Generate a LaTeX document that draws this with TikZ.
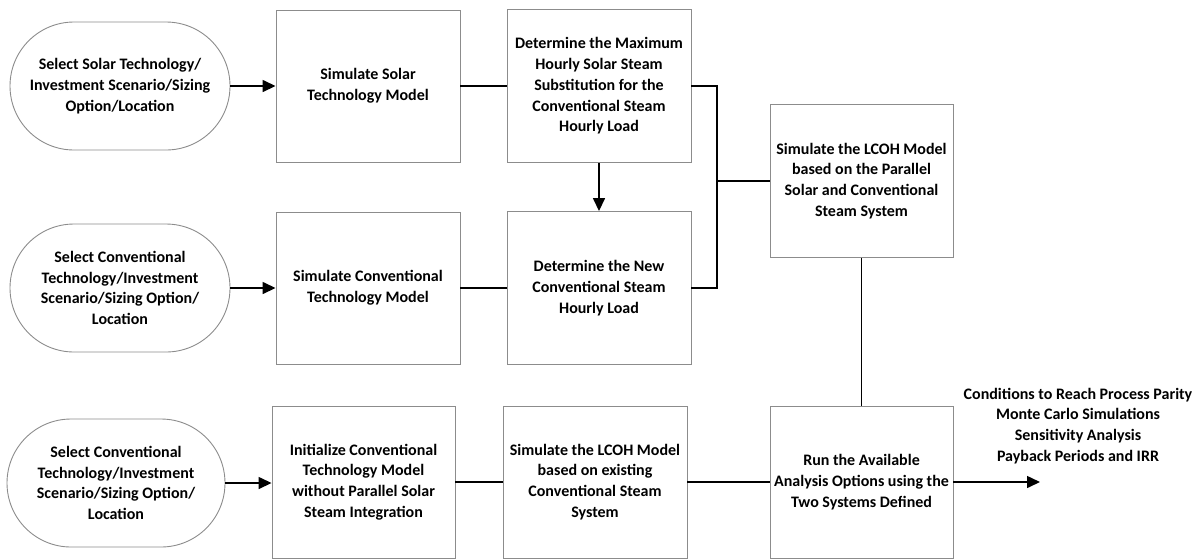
\documentclass[tikz,border=0pt]{standalone}
\usepackage{fontspec}
\setmainfont{Carlito}
\usetikzlibrary{arrows.meta}
\begin{document}
\begin{tikzpicture}[x=1pt,y=-1pt,
  every node/.style={font=\fontsize{16}{20.8}\selectfont\bfseries, align=center, inner sep=0pt},
  procbox/.style={draw=black!45, line width=0.9pt, minimum width=184pt, minimum height=152pt},
  startbox/.style={draw=black!45, line width=0.9pt, rounded corners=64pt, minimum width=220pt, minimum height=128pt},
  conn/.style={draw=black, line width=1.5pt},
  arr/.style={conn, -{Triangle[length=13pt,width=12pt]}}]
\useasboundingbox (0,0) rectangle (1199,558);
% start nodes
\node[startbox] (a1) at (120,86) {Select Solar Technology/\\Investment Scenario/Sizing\\Option/Location};
\node[startbox] (a2) at (120,288) {Select Conventional\\Technology/Investment\\Scenario/Sizing Option/\\Location};
\node[startbox, minimum width=218pt] (a3) at (116,483) {Select Conventional\\Technology/Investment\\Scenario/Sizing Option/\\Location};
% column B
\node[procbox] (b1) at (368,86) {Simulate Solar\\Technology Model};
\node[procbox] (b2) at (368,288) {Simulate Conventional\\Technology Model};
\node[procbox, minimum width=183pt] (b3) at (363.5,482) {Initialize Conventional\\Technology Model\\without Parallel Solar\\Steam Integration};
% column C
\node[procbox, minimum height=153pt] (c1) at (599,86) {Determine the Maximum\\Hourly Solar Steam\\Substitution for the\\Conventional Steam\\Hourly Load};
\node[procbox, minimum height=153pt] (c2) at (599,288) {Determine the New\\Conventional Steam\\Hourly Load};
\node[procbox] (c3) at (595,482) {Simulate the LCOH Model\\based on existing\\Conventional Steam\\System};
% column D
\node[procbox, minimum width=183pt, minimum height=153pt] (d1) at (861.5,181) {Simulate the LCOH Model\\based on the Parallel\\Solar and Conventional\\Steam System};
\node[procbox, minimum width=183pt] (d3) at (861.5,482) {Run the Available\\Analysis Options using the\\Two Systems Defined};
% results
\node (res) at (1078,426) {Conditions to Reach Process Parity\\Monte Carlo Simulations\\Sensitivity Analysis\\Payback Periods and IRR};
\coordinate (j) at (717,181);
\coordinate (outend) at (1040,482);
% connectors
\draw[arr] (a1.east) -- (b1.west);
\draw[arr] (a2.east) -- (b2.west);
\draw[arr] (a3.east) -- (b3.west |- a3.east);
\draw[conn] (b1.east) -- (c1.west);
\draw[conn] (b2.east) -- (c2.west);
\draw[conn] (b3.east) -- (c3.west);
\draw[conn] (c3.east) -- (d3.west);
\draw[arr] (c1.south) -- (c2.north);
\draw[conn] (c1.east) -| (j) |- (c2.east);
\draw[conn] (j) -- (d1.west);
\draw[conn] (d1.south) -- (d3.north);
\draw[arr] (d3.east) -- (outend);
\end{tikzpicture}
\end{document}
